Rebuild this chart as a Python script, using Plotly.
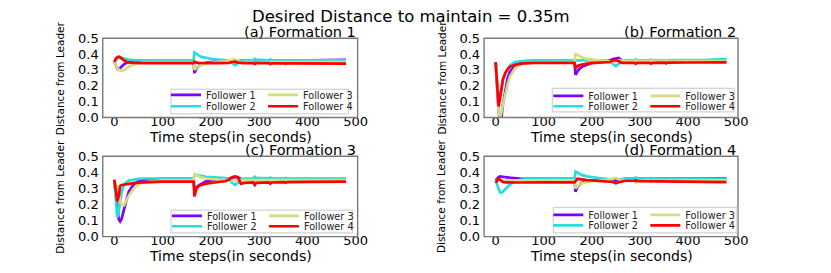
import plotly.graph_objects as go

W, H = 831, 273

# ---------------- data ----------------
T = [0, 3, 6, 9, 12, 15, 20, 25, 30, 40, 50, 60, 80, 100, 140,
     164, 166, 170, 175, 180, 190, 200, 215, 230, 238, 244, 250, 256, 262, 270,
     288, 291, 294, 320, 323, 326, 352, 355, 358, 400, 440, 480]

A1 = [0.350, 0.330, 0.310, 0.303, 0.312, 0.322, 0.335, 0.345, 0.350, 0.356, 0.358, 0.360, 0.360, 0.360, 0.360,
      0.360, 0.280, 0.310, 0.325, 0.335, 0.345, 0.350, 0.352, 0.355, 0.357, 0.356, 0.352, 0.355, 0.358, 0.360,
      0.360, 0.355, 0.360, 0.360, 0.357, 0.360, 0.360, 0.358, 0.360, 0.361, 0.362, 0.364]
A2 = [0.350, 0.362, 0.370, 0.375, 0.377, 0.376, 0.372, 0.368, 0.365, 0.362, 0.361, 0.360, 0.360, 0.360, 0.360,
      0.360, 0.410, 0.400, 0.390, 0.383, 0.375, 0.370, 0.365, 0.362, 0.355, 0.340, 0.330, 0.340, 0.355, 0.360,
      0.360, 0.370, 0.365, 0.360, 0.367, 0.362, 0.360, 0.364, 0.360, 0.360, 0.360, 0.360]
A3 = [0.350, 0.330, 0.312, 0.302, 0.296, 0.295, 0.300, 0.310, 0.320, 0.334, 0.343, 0.348, 0.350, 0.350, 0.350,
      0.350, 0.300, 0.315, 0.325, 0.331, 0.340, 0.345, 0.349, 0.351, 0.357, 0.364, 0.365, 0.357, 0.350, 0.350,
      0.350, 0.338, 0.346, 0.350, 0.343, 0.349, 0.350, 0.346, 0.350, 0.350, 0.350, 0.350]
A4 = [0.350, 0.372, 0.380, 0.383, 0.380, 0.372, 0.360, 0.352, 0.348, 0.345, 0.343, 0.343, 0.343, 0.343, 0.343,
      0.343, 0.352, 0.346, 0.344, 0.343, 0.343, 0.343, 0.343, 0.343, 0.345, 0.350, 0.352, 0.346, 0.343, 0.343,
      0.343, 0.338, 0.343, 0.343, 0.338, 0.342, 0.342, 0.339, 0.342, 0.341, 0.341, 0.340]

B1 = [0.350, 0.200, 0.050, -0.020, 0.000, 0.080, 0.180, 0.250, 0.290, 0.325, 0.340, 0.348, 0.353, 0.355, 0.355,
      0.355, 0.270, 0.290, 0.310, 0.320, 0.335, 0.345, 0.350, 0.355, 0.360, 0.368, 0.372, 0.375, 0.360, 0.352,
      0.350, 0.345, 0.350, 0.352, 0.348, 0.352, 0.353, 0.350, 0.353, 0.354, 0.355, 0.355]
B2 = [0.350, 0.220, 0.120, 0.130, 0.180, 0.230, 0.280, 0.310, 0.330, 0.350, 0.356, 0.358, 0.360, 0.360, 0.360,
      0.360, 0.360, 0.360, 0.360, 0.360, 0.360, 0.360, 0.360, 0.360, 0.352, 0.338, 0.325, 0.338, 0.355, 0.360,
      0.360, 0.368, 0.362, 0.360, 0.365, 0.361, 0.360, 0.363, 0.360, 0.362, 0.363, 0.368]
B3 = [0.350, 0.200, 0.050, 0.000, 0.030, 0.080, 0.150, 0.210, 0.260, 0.310, 0.330, 0.340, 0.348, 0.350, 0.350,
      0.350, 0.400, 0.395, 0.385, 0.378, 0.370, 0.365, 0.360, 0.358, 0.355, 0.350, 0.355, 0.360, 0.358, 0.355,
      0.355, 0.362, 0.356, 0.355, 0.360, 0.356, 0.355, 0.358, 0.355, 0.355, 0.355, 0.355]
B4 = [0.350, 0.200, 0.070, 0.120, 0.190, 0.240, 0.280, 0.305, 0.320, 0.332, 0.338, 0.342, 0.345, 0.345, 0.345,
      0.345, 0.310, 0.325, 0.330, 0.335, 0.340, 0.343, 0.345, 0.345, 0.350, 0.360, 0.362, 0.355, 0.345, 0.345,
      0.345, 0.338, 0.345, 0.345, 0.340, 0.345, 0.346, 0.341, 0.346, 0.347, 0.347, 0.348]

C1 = [0.350, 0.280, 0.180, 0.110, 0.095, 0.110, 0.170, 0.230, 0.280, 0.325, 0.345, 0.352, 0.357, 0.360, 0.360,
      0.360, 0.300, 0.305, 0.320, 0.330, 0.345, 0.350, 0.355, 0.355, 0.360, 0.365, 0.370, 0.368, 0.360, 0.355,
      0.358, 0.355, 0.358, 0.358, 0.356, 0.358, 0.358, 0.357, 0.358, 0.358, 0.358, 0.358]
C2 = [0.350, 0.200, 0.120, 0.150, 0.220, 0.280, 0.320, 0.340, 0.350, 0.357, 0.360, 0.362, 0.362, 0.362, 0.362,
      0.362, 0.380, 0.385, 0.382, 0.378, 0.372, 0.370, 0.368, 0.365, 0.355, 0.335, 0.322, 0.335, 0.355, 0.362,
      0.362, 0.372, 0.366, 0.363, 0.368, 0.363, 0.362, 0.365, 0.362, 0.362, 0.362, 0.362]
C3 = [0.350, 0.330, 0.300, 0.260, 0.220, 0.200, 0.195, 0.225, 0.255, 0.300, 0.325, 0.338, 0.345, 0.350, 0.350,
      0.350, 0.390, 0.385, 0.375, 0.370, 0.362, 0.358, 0.355, 0.352, 0.352, 0.352, 0.352, 0.352, 0.352, 0.352,
      0.352, 0.355, 0.352, 0.352, 0.354, 0.352, 0.352, 0.353, 0.352, 0.352, 0.352, 0.352]
C4 = [0.355, 0.300, 0.220, 0.250, 0.315, 0.322, 0.325, 0.327, 0.330, 0.333, 0.336, 0.338, 0.340, 0.342, 0.343,
      0.343, 0.250, 0.300, 0.315, 0.322, 0.330, 0.335, 0.340, 0.345, 0.355, 0.370, 0.375, 0.370, 0.330, 0.335,
      0.338, 0.322, 0.335, 0.338, 0.330, 0.337, 0.340, 0.335, 0.340, 0.341, 0.342, 0.342]

D1 = [0.350, 0.362, 0.370, 0.375, 0.375, 0.373, 0.370, 0.368, 0.366, 0.363, 0.361, 0.360, 0.360, 0.360, 0.360,
      0.360, 0.280, 0.310, 0.325, 0.335, 0.345, 0.350, 0.352, 0.355, 0.355, 0.352, 0.350, 0.353, 0.357, 0.360,
      0.360, 0.357, 0.360, 0.360, 0.358, 0.360, 0.360, 0.359, 0.360, 0.361, 0.361, 0.363]
D2 = [0.350, 0.320, 0.290, 0.275, 0.272, 0.280, 0.295, 0.310, 0.325, 0.343, 0.352, 0.356, 0.358, 0.360, 0.360,
      0.360, 0.405, 0.400, 0.390, 0.383, 0.375, 0.370, 0.365, 0.360, 0.355, 0.340, 0.330, 0.340, 0.355, 0.360,
      0.360, 0.368, 0.362, 0.360, 0.365, 0.361, 0.360, 0.363, 0.360, 0.360, 0.360, 0.360]
D3 = [0.345, 0.350, 0.352, 0.352, 0.350, 0.350, 0.350, 0.350, 0.350, 0.350, 0.350, 0.350, 0.350, 0.350, 0.350,
      0.350, 0.300, 0.315, 0.325, 0.332, 0.340, 0.345, 0.350, 0.352, 0.358, 0.365, 0.365, 0.358, 0.350, 0.350,
      0.350, 0.335, 0.345, 0.350, 0.343, 0.349, 0.350, 0.346, 0.350, 0.350, 0.350, 0.350]
D4 = [0.335, 0.350, 0.360, 0.355, 0.345, 0.340, 0.338, 0.337, 0.337, 0.337, 0.337, 0.338, 0.338, 0.338, 0.338,
      0.338, 0.345, 0.360, 0.358, 0.355, 0.352, 0.350, 0.348, 0.346, 0.345, 0.340, 0.335, 0.338, 0.345, 0.348,
      0.348, 0.350, 0.346, 0.345, 0.347, 0.344, 0.343, 0.344, 0.342, 0.341, 0.340, 0.340]

FORMATIONS = [
    ("(a) Formation 1", [A1, A2, A3, A4]),
    ("(b) Formation 2", [B1, B2, B3, B4]),
    ("(c) Formation 3", [C1, C2, C3, C4]),
    ("(d) Formation 4", [D1, D2, D3, D4]),
]
FOLLOWERS = ["Follower 1", "Follower 2", "Follower 3", "Follower 4"]
COLORS = ["#8000ff", "#2adddd", "#d4dd80", "#ff0000"]
XTICKS = [0, 100, 200, 300, 400, 500]
YTICKS = [0.0, 0.1, 0.2, 0.3, 0.4, 0.5]
SUPTITLE = "Desired Distance to maintain = 0.35m"
XTITLE = "Time steps(in seconds)"
YTITLE = "Distance from Leader"

# ---------------- layout geometry (pixels) ----------------
FONT = "DejaVu Sans"
FRAME_COLOR = "#7a7a7a"
# frames: (left, right, top, bottom)
FRAMES = [(104, 362, 33, 117), (490, 747, 33, 117),
          (104, 362, 158, 243), (490, 747, 158, 243)]
# legend boxes: (left, right, top, bottom), line start col1, row centres
LEG = [
    dict(box=(173, 353, 87, 113), x0=176, rows=(93, 105)),
    dict(box=(559, 743, 86, 111), x0=563, rows=(94, 105)),
    dict(box=(173, 357, 215, 239), x0=177, rows=(221, 232)),
    dict(box=(560, 746, 212, 239), x0=563, rows=(220, 231)),
]


def px(x):
    return x / W


def py(y):
    return 1 - y / H


fig = go.Figure()
layout = dict(
    width=W, height=H,
    margin=dict(l=0, r=0, t=0, b=0),
    paper_bgcolor="white", plot_bgcolor="white",
    font=dict(family=FONT, color="black"),
    showlegend=True,
    annotations=[], shapes=[],
)

for p, (title, series) in enumerate(FORMATIONS):
    sfx = "" if p == 0 else str(p + 1)
    l, r, t, b = FRAMES[p]
    leg_row1 = "legend" if p == 0 else f"legend{2 * p + 1}"
    leg_row2 = f"legend{2 * p + 2}"
    for k, (name, vals, col) in enumerate(zip(FOLLOWERS, series, COLORS)):
        fig.add_trace(go.Scatter(
            x=T, y=vals, mode="lines", name=name,
            line=dict(color=col, width=2.7),
            xaxis="x" + sfx, yaxis="y" + sfx,
            legend=leg_row1 if k in (0, 2) else leg_row2,
            hoverinfo="skip",
        ))
    common_ax = dict(showline=False, showgrid=False, zeroline=False, ticks="",
                     tickfont=dict(size=13, family=FONT, color="black"))
    layout["xaxis" + sfx] = dict(domain=[px(l), px(r)], range=[-24, 504],
                                 tickvals=XTICKS, anchor="y" + sfx,
                                 ticklabelstandoff=-6, **common_ax)
    layout["yaxis" + sfx] = dict(domain=[py(b), py(t)], range=[0, 0.5],
                                 tickvals=YTICKS, tickformat=".1f",
                                 anchor="x" + sfx, ticklabelstandoff=3, **common_ax)
    # frame around the plot area (paper coordinates)
    layout["shapes"].append(dict(
        type="rect", xref="paper", yref="paper",
        x0=px(l), x1=px(r), y0=py(b), y1=py(t),
        line=dict(color=FRAME_COLOR, width=1.4), fillcolor="rgba(0,0,0,0)",
        layer="above"))
    # subplot title (right aligned)
    layout["annotations"].append(dict(
        text=title, x=px(r), y=py(t - 7), xref="paper", yref="paper",
        xanchor="right", yanchor="middle", showarrow=False,
        font=dict(size=14.5, family=FONT, color="black")))
    # x title
    layout["annotations"].append(dict(
        text=XTITLE, x=px((l + r) / 2), y=py(b + 21), xref="paper", yref="paper",
        xanchor="center", yanchor="middle", showarrow=False,
        font=dict(size=14, family=FONT, color="black")))
    # y title
    layout["annotations"].append(dict(
        text=YTITLE, x=px(l - 43), y=py((t + b) / 2), xref="paper", yref="paper",
        xanchor="center", yanchor="middle", showarrow=False, textangle=-90,
        font=dict(size=10.5, family=FONT, color="black")))
    # legend box
    lg = LEG[p]
    bl, br, bt, bb = lg["box"]
    layout["shapes"].append(dict(
        type="rect", xref="paper", yref="paper",
        x0=px(bl), x1=px(br), y0=py(bb), y1=py(bt),
        line=dict(color="#c8c8c8", width=1), fillcolor="rgba(255,255,255,0.85)",
        layer="above"))
    for name_, yc in ((leg_row1, lg["rows"][0]), (leg_row2, lg["rows"][1])):
        layout[name_] = dict(
            orientation="h", x=px(lg["x0"] - 8), y=py(yc),
            xanchor="left", yanchor="middle",
            bgcolor="rgba(0,0,0,0)", borderwidth=0,
            font=dict(size=9.7, family=FONT, color="#222222"),
            entrywidth=52, entrywidthmode="pixels", itemwidth=30,
            itemclick=False, itemdoubleclick=False,
        )

layout["annotations"].append(dict(
    text=SUPTITLE, x=px(416), y=py(10), xref="paper", yref="paper",
    xanchor="center", yanchor="middle", showarrow=False,
    font=dict(size=16.5, family=FONT, color="black")))

fig.update_layout(**layout)
fig.write_html("out.html", config={"displayModeBar": False},
               post_script="document.body.style.margin='0px';")
